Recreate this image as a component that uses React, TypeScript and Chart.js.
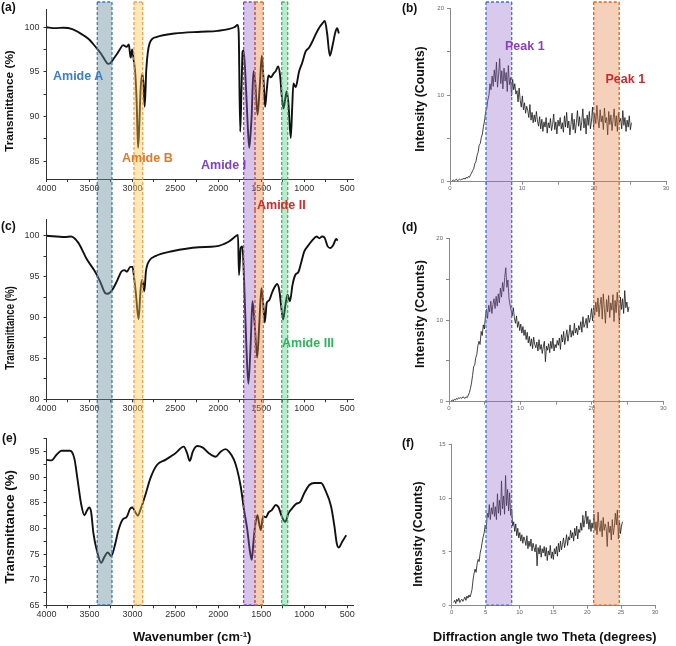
import React, { useEffect, useRef } from "react";
import { Chart, registerables } from "chart.js";

Chart.register(...registerables);

const FONT = '"Liberation Sans", Arial, Helvetica, sans-serif';

// ---------- FTIR (a) ----------
const ftirAWavenumber = [4000, 3900, 3800, 3700, 3620, 3553, 3500, 3437, 3359, 3301, 3282, 3255, 3224, 3180, 3147, 3108, 3069, 3042, 3031, 3020, 3003, 2985, 2965, 2950, 2934, 2920, 2904, 2884, 2870, 2857, 2838, 2800, 2722, 2510, 2200, 2007, 1814, 1775, 1763, 1745, 1730, 1717, 1705, 1679, 1660, 1640, 1625, 1613, 1590, 1571, 1543, 1517, 1493, 1474, 1455, 1435, 1416, 1389, 1358, 1331, 1304, 1281, 1260, 1242, 1220, 1204, 1184, 1157, 1140, 1126, 1099, 1061, 1022, 983, 944, 905, 867, 829, 790, 760, 733, 702, 667, 636, 616, 597];
const ftirATransmittance = [100.0, 99.9, 99.95, 99.8, 99.4, 99.0, 98.6, 97.9, 96.95, 96.05, 95.9, 96.0, 96.4, 97.0, 97.5, 98.0, 97.8, 98.06, 97.3, 96.6, 97.5, 96.4, 94.6, 91.5, 86.5, 89.0, 93.1, 94.8, 93.5, 91.1, 95.3, 98.2, 98.9, 99.3, 99.5, 99.6, 100.0, 100.25, 99.5, 88.3, 93.0, 97.3, 97.4, 93.5, 89.5, 86.5, 88.0, 89.8, 95.1, 93.9, 90.2, 93.5, 96.8, 94.2, 91.1, 93.1, 94.6, 94.4, 94.8, 95.1, 95.6, 94.6, 92.2, 90.9, 92.0, 92.8, 91.5, 87.6, 91.0, 93.7, 93.3, 95.0, 96.05, 97.3, 97.7, 98.4, 99.2, 99.9, 100.4, 100.7, 99.3, 96.8, 98.1, 99.5, 99.9, 99.3];

// ---------- FTIR (c) ----------
const ftirCWavenumber = [4000, 3785, 3715, 3629, 3532, 3434, 3376, 3317, 3287, 3240, 3182, 3130, 3092, 3065, 3025, 2998, 2986, 2960, 2928, 2905, 2889, 2878, 2861, 2843, 2803, 2733, 2539, 2227, 2031, 1876, 1790, 1771, 1759, 1739, 1720, 1700, 1674, 1650, 1622, 1603, 1575, 1548, 1522, 1498, 1478, 1459, 1436, 1408, 1376, 1350, 1315, 1291, 1268, 1245, 1221, 1194, 1166, 1136, 1104, 1066, 1038, 999, 960, 902, 855, 824, 792, 765, 727, 695, 660, 628, 610];
const ftirCTransmittance = [100.0, 99.85, 99.9, 99.13, 97.15, 95.6, 94.4, 93.0, 92.9, 93.3, 94.4, 95.6, 95.8, 95.6, 96.2, 96.2, 95.4, 93.0, 89.8, 93.4, 94.6, 94.3, 93.2, 95.6, 96.95, 97.5, 98.1, 98.6, 98.7, 99.3, 100.0, 100.1, 95.2, 98.5, 98.7, 94.6, 86.7, 81.9, 87.1, 92.0, 89.0, 85.1, 89.4, 93.6, 91.8, 89.4, 91.8, 92.1, 93.0, 93.6, 94.1, 93.4, 91.4, 89.75, 91.4, 92.8, 92.0, 94.0, 95.2, 95.6, 96.6, 98.1, 98.7, 99.5, 99.9, 99.7, 99.9, 99.8, 98.7, 98.5, 98.9, 99.6, 99.4];

// ---------- FTIR (e) ----------
const ftirEWavenumber = [4000, 3942, 3883, 3825, 3726, 3676, 3638, 3598, 3559, 3532, 3504, 3481, 3454, 3415, 3364, 3325, 3287, 3247, 3209, 3162, 3115, 3065, 3025, 2998, 2967, 2936, 2908, 2850, 2791, 2714, 2616, 2499, 2402, 2363, 2332, 2297, 2246, 2180, 2110, 2031, 1973, 1915, 1876, 1817, 1779, 1739, 1700, 1662, 1634, 1611, 1592, 1572, 1545, 1525, 1505, 1478, 1447, 1416, 1377, 1330, 1300, 1260, 1221, 1183, 1143, 1096, 1046, 999, 940, 882, 804, 754, 687, 648, 621, 598, 558, 511];
const ftirETransmittance = [93.4, 93.3, 94.4, 95.2, 95.2, 93.7, 89.5, 84.9, 82.6, 83.4, 84.1, 83.3, 79.1, 75.8, 73.3, 74.5, 75.3, 74.6, 76.4, 79.7, 81.7, 82.3, 83.9, 84.1, 83.2, 82.5, 83.6, 86.5, 89.8, 92.4, 93.4, 94.7, 96.0, 94.7, 93.2, 95.0, 96.1, 95.8, 94.7, 94.0, 95.0, 95.5, 95.0, 93.4, 91.4, 88.2, 83.6, 79.7, 75.8, 73.9, 77.1, 80.4, 82.6, 81.0, 79.7, 82.4, 82.2, 83.1, 83.6, 84.6, 84.2, 82.3, 81.3, 83.0, 83.9, 84.8, 85.2, 86.9, 88.5, 88.9, 88.9, 87.5, 84.3, 80.4, 77.1, 76.3, 77.4, 78.7];

// FTIR axes
const ftirXMin = 432;
const ftirXMax = 4000;
const ftirXTicks = [4000, 3750, 3500, 3250, 3000, 2750, 2500, 2250, 2000, 1750, 1500, 1250, 1000, 750, 500];
const ftirXLabelStep = 500;
const ftirYTicks = [65, 67.5, 70, 72.5, 75, 77.5, 80, 82.5, 85, 87.5, 90, 92.5, 95, 97.5, 100];
const ftirYLabelStep = 5;
const ftirAYRange = [83, 102];
const ftirCYRange = [80, 102];
const ftirEYRange = [65, 97.5];

// FTIR highlighted bands (cm-1): Amide A, Amide B, Amide I, Amide II, Amide III
const ftirBandLow = [3238, 2880, 1573, 1476, 1192];
const ftirBandHigh = [3409, 2982, 1705, 1573, 1262];

// ---------- XRD ----------
const xrdAngles = [0.3, 0.45, 0.6, 0.75, 0.9, 1.05, 1.2, 1.35, 1.5, 1.65, 1.8, 1.95, 2.1, 2.25, 2.4, 2.55, 2.7, 2.85, 3.0, 3.15, 3.3, 3.45, 3.6, 3.75, 3.9, 4.05, 4.2, 4.35, 4.5, 4.65, 4.8, 4.95, 5.1, 5.25, 5.4, 5.55, 5.7, 5.85, 6.0, 6.15, 6.3, 6.45, 6.6, 6.75, 6.9, 7.05, 7.2, 7.35, 7.5, 7.65, 7.8, 7.95, 8.1, 8.25, 8.4, 8.55, 8.7, 8.85, 9.0, 9.15, 9.3, 9.45, 9.6, 9.75, 9.9, 10.05, 10.2, 10.35, 10.5, 10.65, 10.8, 10.95, 11.1, 11.25, 11.4, 11.55, 11.7, 11.85, 12.0, 12.15, 12.3, 12.45, 12.6, 12.75, 12.9, 13.05, 13.2, 13.35, 13.5, 13.65, 13.8, 13.95, 14.1, 14.25, 14.4, 14.55, 14.7, 14.85, 15.0, 15.15, 15.3, 15.45, 15.6, 15.75, 15.9, 16.05, 16.2, 16.35, 16.5, 16.65, 16.8, 16.95, 17.1, 17.25, 17.4, 17.55, 17.7, 17.85, 18.0, 18.15, 18.3, 18.45, 18.6, 18.75, 18.9, 19.05, 19.2, 19.35, 19.5, 19.65, 19.8, 19.95, 20.1, 20.25, 20.4, 20.55, 20.7, 20.85, 21.0, 21.15, 21.3, 21.45, 21.6, 21.75, 21.9, 22.05, 22.2, 22.35, 22.5, 22.65, 22.8, 22.95, 23.1, 23.25, 23.4, 23.55, 23.7, 23.85, 24.0, 24.15, 24.3, 24.45, 24.6, 24.75, 24.9, 25.05, 25.2];

const xrdBCounts = [
  0.1, 0.2, 0.1, 0.2, 0.3, 0.1, 0.2, 0.3, 0.2, 0.3,
  0.3, 0.4, 0.3, 0.5, 0.4, 0.6, 0.5, 0.8, 1.0, 1.3,
  1.5, 2.1, 2.3, 3.0, 3.4, 4.2, 4.4, 5.1, 5.5, 6.4,
  7.0, 8.1, 8.4, 9.4, 9.9, 11.3, 10.6, 12.2, 11.0, 12.9,
  11.5, 13.8, 10.9, 12.4, 14.2, 11.3, 12.8, 10.7, 13.1, 11.6,
  12.6, 10.4, 13.4, 11.2, 12.0, 9.9, 11.8, 10.6, 11.3, 10.1,
  10.5, 9.2, 10.8, 9.4, 8.6, 9.9, 8.3, 9.1, 7.9, 8.7,
  8.2, 7.4, 8.9, 7.1, 8.0, 6.8, 7.7, 6.9, 8.1, 7.0,
  6.4, 7.5, 6.1, 7.2, 5.8, 6.9, 6.3, 7.4, 5.6, 6.8,
  6.2, 7.3, 5.9, 6.6, 7.8, 6.0, 6.9, 5.5, 7.1, 6.4,
  7.4, 6.1, 6.8, 5.7, 7.6, 6.3, 8.0, 6.2, 7.0, 5.4,
  6.6, 7.9, 6.0, 7.2, 5.6, 6.8, 8.2, 6.4, 7.5, 5.9,
  6.9, 8.4, 6.2, 7.3, 5.5, 7.7, 6.5, 8.1, 6.1, 7.0,
  8.6, 6.3, 7.9, 6.7, 8.8, 7.1, 6.2, 8.3, 6.9, 7.6,
  6.0, 8.5, 6.8, 7.4, 5.4, 8.1, 6.6, 7.7, 5.9, 7.2,
  8.4, 6.4, 7.6, 5.8, 8.0, 6.9, 7.3, 6.1, 8.2, 6.5,
  7.4, 5.8, 7.1, 6.3, 7.6, 6.0, 6.8
];

const xrdDCounts = [
  0.1, 0.2, 0.1, 0.3, 0.2, 0.4, 0.3, 0.5, 0.4, 0.5,
  0.4, 0.6, 0.5, 0.4, 0.6, 0.5, 0.8, 1.1, 1.6, 2.3,
  3.2, 4.3, 4.5, 5.4, 5.8, 6.9, 7.4, 7.0, 8.6, 8.1,
  9.4, 8.9, 10.4, 11.3, 10.2, 11.8, 11.0, 12.3, 10.8, 11.9,
  12.6, 11.4, 12.9, 11.7, 13.2, 12.1, 13.9, 12.8, 14.6, 13.5,
  15.2, 16.4, 14.0, 14.9, 12.6, 11.8, 11.2, 10.5, 11.5, 10.3,
  9.6, 10.5, 9.1, 9.8, 8.7, 9.5, 8.4, 9.2, 8.1, 8.8,
  7.6, 8.5, 7.2, 8.0, 6.8, 7.7, 6.5, 7.9, 7.0, 6.6,
  7.3, 6.2, 7.6, 6.4, 7.0, 5.9, 6.7, 7.4, 4.9, 6.8,
  6.3, 7.1, 6.0, 7.4, 6.5, 7.8, 6.2, 7.0, 6.6, 7.5,
  6.9, 7.8, 6.4, 8.2, 7.3, 8.6, 7.0, 7.9, 8.8, 7.4,
  8.3, 9.4, 7.9, 8.7, 8.1, 9.6, 8.4, 9.0, 8.2, 9.3,
  8.8, 9.8, 8.5, 10.4, 9.1, 9.5, 10.2, 9.0, 10.6, 9.7,
  10.3, 11.4, 9.9, 11.8, 10.6, 12.2, 11.0, 12.7, 10.4, 11.9,
  12.8, 10.1, 13.2, 11.4, 9.6, 12.5, 11.0, 13.0, 10.3, 12.1,
  11.2, 13.1, 9.8, 12.4, 10.9, 13.4, 11.6, 9.5, 12.8, 11.3,
  12.6, 10.8, 13.6, 11.5, 12.2, 11.0, 11.6
];

const xrdFCounts = [
  0.3, 0.5, 0.2, 0.6, 0.4, 0.7, 0.3, 0.5, 0.6, 0.4,
  0.6, 0.8, 0.5, 0.9, 0.7, 1.0, 0.8, 1.1, 1.5, 2.4,
  3.0, 3.4, 3.1, 3.9, 4.3, 4.1, 4.9, 5.3, 5.9, 6.4,
  6.8, 7.5, 7.1, 8.6, 8.2, 9.4, 8.0, 9.1, 8.5, 9.6,
  8.3, 9.2, 8.0, 10.4, 8.6, 9.8, 8.4, 11.6, 9.0, 10.2,
  8.5, 12.1, 9.3, 10.8, 8.8, 10.5, 8.4, 9.0, 7.4, 7.8,
  6.9, 7.6, 6.5, 7.2, 6.3, 6.8, 6.0, 6.6, 5.8, 6.4,
  6.1, 5.6, 6.5, 5.3, 6.0, 5.5, 6.2, 5.1, 5.8, 5.4,
  5.0, 5.7, 3.7, 5.4, 4.8, 5.6, 4.5, 5.3, 4.9, 5.5,
  4.6, 5.4, 4.2, 5.1, 4.7, 5.6, 4.4, 5.0, 4.3, 5.3,
  4.8, 5.5, 4.6, 5.8, 5.0, 6.0, 5.2, 5.7, 6.3, 5.4,
  5.9, 6.6, 5.6, 6.4, 6.1, 7.0, 6.3, 6.8, 6.0, 7.2,
  6.5, 7.4, 6.2, 7.1, 6.8, 7.7, 7.0, 8.4, 7.3, 8.0,
  8.8, 7.6, 8.3, 7.1, 8.0, 6.9, 7.7, 7.2, 8.5, 7.0,
  7.8, 6.6, 8.7, 7.3, 6.9, 7.9, 6.4, 8.2, 7.0, 7.6,
  7.2, 5.5, 7.8, 6.8, 7.4, 6.1, 8.0, 6.6, 7.3, 8.6,
  7.5, 8.9, 6.2, 7.9, 6.7, 7.4, 7.8
];

// XRD highlighted bands (degrees 2θ): Peak 1 (low angle), Peak 1 (high angle)
const xrdBBandLow = [5.0, 19.96];
const xrdBBandHigh = [8.57, 23.5];
const xrdDBandLow = [5.18, 20.26];
const xrdDBandHigh = [8.78, 23.84];
const xrdFBandLow = [5.06, 20.95];
const xrdFBandHigh = [8.85, 24.73];

// ---------- styles ----------
const ftirBandFill = [
  "rgba(105,142,158,0.44)",
  "rgba(252,200,80,0.42)",
  "rgba(150,100,200,0.38)",
  "rgba(222,128,66,0.40)",
  "rgba(70,195,110,0.36)",
];
const ftirBandStroke = ["#3b78c8", "#f2a055", "#8b45cf", "#e0701e", "#2fbf5e"];
const xrdBandFill = ["rgba(150,108,205,0.36)", "rgba(226,128,66,0.36)"];
const xrdBandStroke = ["#3b78c8", "#e0661a"];

type BandOpts = {
  low: number[];
  high: number[];
  fill: string[];
  stroke: string[];
  top: number;
  toAxis: boolean;
  topBorder: boolean;
  bottomBorder: boolean;
};

function bandPlugin(o: BandOpts) {
  return {
    id: "bands",
    afterDraw(chart: any) {
      const { ctx, chartArea } = chart;
      const xs = chart.scales.x;
      const yTop = o.top;
      const yBot = o.toAxis ? chartArea.bottom : chart.height;
      ctx.save();
      o.low.forEach((lo, i) => {
        const p1 = xs.getPixelForValue(lo);
        const p2 = xs.getPixelForValue(o.high[i]);
        const l = Math.min(p1, p2);
        const r = Math.max(p1, p2);
        ctx.fillStyle = o.fill[i];
        ctx.fillRect(l, yTop, r - l, yBot - yTop);
      });
      o.low.forEach((lo, i) => {
        const p1 = xs.getPixelForValue(lo);
        const p2 = xs.getPixelForValue(o.high[i]);
        const l = Math.min(p1, p2);
        const r = Math.max(p1, p2);
        ctx.strokeStyle = o.stroke[i];
        ctx.lineWidth = 1.3;
        ctx.setLineDash([3, 2]);
        ctx.beginPath();
        ctx.moveTo(l, yTop);
        ctx.lineTo(l, yBot);
        ctx.moveTo(r, yTop);
        ctx.lineTo(r, yBot);
        if (o.topBorder) {
          ctx.moveTo(l, yTop);
          ctx.lineTo(r, yTop);
        }
        if (o.bottomBorder) {
          ctx.moveTo(l, yBot - 0.5);
          ctx.lineTo(r, yBot - 0.5);
        }
        ctx.stroke();
      });
      ctx.restore();
    },
  };
}

function fixedTicks(values: number[]) {
  return (s: any) => {
    s.ticks = values.filter((v) => v >= s.min - 1e-9 && v <= s.max + 1e-9).map((v) => ({ value: v }));
  };
}

function ftirConfig(
  wn: number[],
  tr: number[],
  yRange: number[],
  padTop: number,
  axisH: number,
  bandTop: number,
  last: boolean
) {
  const axisColor = "#333";
  return {
    type: "line",
    data: {
      datasets: [
        {
          data: wn.map((w, i) => ({ x: w, y: tr[i] })),
          borderColor: "#111",
          borderWidth: 1.9,
          pointRadius: 0,
          cubicInterpolationMode: "monotone",
          fill: false,
        },
      ],
    },
    options: {
      animation: false,
      responsive: false,
      events: [],
      layout: { padding: { left: 0, right: 7, top: padTop, bottom: 0 } },
      plugins: { legend: { display: false }, tooltip: { enabled: false } },
      scales: {
        x: {
          type: "linear",
          reverse: true,
          min: ftirXMin,
          max: ftirXMax,
          afterFit: (s: any) => {
            s.height = axisH;
          },
          afterBuildTicks: fixedTicks(ftirXTicks),
          ticks: {
            autoSkip: false,
            maxRotation: 0,
            color: "#333",
            font: { family: FONT, size: 9 },
            padding: 1,
            callback: (v: any) => (Number(v) % ftirXLabelStep === 0 ? String(v) : ""),
          },
          grid: { drawOnChartArea: false, drawTicks: true, tickLength: 3, color: axisColor },
          border: { display: true, color: axisColor, width: 1 },
        },
        y: {
          type: "linear",
          min: yRange[0],
          max: yRange[1],
          afterFit: (s: any) => {
            s.width = 46.5;
          },
          afterBuildTicks: fixedTicks(ftirYTicks),
          ticks: {
            autoSkip: false,
            color: "#333",
            font: { family: FONT, size: 9 },
            padding: 4,
            callback: (v: any) => (Number(v) % ftirYLabelStep === 0 ? String(v) : ""),
          },
          grid: { drawOnChartArea: false, drawTicks: true, tickLength: 3, color: axisColor },
          border: { display: true, color: axisColor, width: 1 },
        },
      },
    },
    plugins: [
      bandPlugin({
        low: ftirBandLow,
        high: ftirBandHigh,
        fill: ftirBandFill,
        stroke: ftirBandStroke,
        top: bandTop,
        toAxis: last,
        topBorder: bandTop > 0,
        bottomBorder: last,
      }),
    ],
  };
}

function xrdConfig(
  counts: number[],
  yMax: number,
  yLabelEvery: number,
  xLabelEvery: number,
  yAxisW: number,
  padRight: number,
  padTop: number,
  axisH: number,
  bandLow: number[],
  bandHigh: number[],
  bandTop: number,
  last: boolean
) {
  const axisColor = "#8a8a8a";
  return {
    type: "line",
    data: {
      datasets: [
        {
          data: xrdAngles.map((a, i) => ({ x: a, y: counts[i] })),
          borderColor: "rgba(25,25,25,0.9)",
          borderWidth: 0.9,
          pointRadius: 0,
          tension: 0,
          fill: false,
        },
      ],
    },
    options: {
      animation: false,
      responsive: false,
      events: [],
      layout: { padding: { left: 0, right: padRight, top: padTop, bottom: 0 } },
      plugins: { legend: { display: false }, tooltip: { enabled: false } },
      scales: {
        x: {
          type: "linear",
          min: 0,
          max: 30,
          afterFit: (s: any) => {
            s.height = axisH;
          },
          ticks: {
            stepSize: 5,
            autoSkip: false,
            maxRotation: 0,
            color: "#666",
            font: { family: FONT, size: 6 },
            padding: 0,
            callback: (v: any) => (Number(v) % xLabelEvery === 0 ? String(v) : ""),
          },
          grid: { drawOnChartArea: false, drawTicks: true, tickLength: 3, color: axisColor },
          border: { display: true, color: axisColor, width: 1 },
        },
        y: {
          type: "linear",
          min: 0,
          max: yMax,
          afterFit: (s: any) => {
            s.width = yAxisW;
          },
          ticks: {
            stepSize: 5,
            color: "#666",
            font: { family: FONT, size: 6 },
            padding: 3,
            callback: (v: any) => (Number(v) % yLabelEvery === 0 ? String(v) : ""),
          },
          grid: { drawOnChartArea: false, drawTicks: true, tickLength: 3, color: axisColor },
          border: { display: true, color: axisColor, width: 1 },
        },
      },
    },
    plugins: [
      bandPlugin({
        low: bandLow,
        high: bandHigh,
        fill: xrdBandFill,
        stroke: xrdBandStroke,
        top: bandTop,
        toAxis: last,
        topBorder: bandTop > 0,
        bottomBorder: last,
      }),
    ],
  };
}

function ChartCanvas(props: { left: number; top: number; width: number; height: number; build: () => any }) {
  const ref = useRef<HTMLCanvasElement>(null);
  useEffect(() => {
    const chart = new Chart(ref.current as HTMLCanvasElement, props.build());
    return () => chart.destroy();
  }, []);
  return (
    <canvas
      ref={ref}
      width={props.width}
      height={props.height}
      style={{ position: "absolute", left: props.left, top: props.top, width: props.width, height: props.height }}
    />
  );
}

function Label(props: { x: number; y: number; text: React.ReactNode; color?: string; size?: number }) {
  return (
    <div
      style={{
        position: "absolute",
        left: props.x,
        top: props.y,
        transform: "translateY(-50%)",
        whiteSpace: "nowrap",
        fontFamily: FONT,
        fontWeight: "bold",
        fontSize: props.size ?? 12.5,
        lineHeight: 1,
        color: props.color ?? "#111",
      }}
    >
      {props.text}
    </div>
  );
}

function VLabel(props: { cx: number; cy: number; text: string; size: number; stretch?: number }) {
  return (
    <div
      style={{
        position: "absolute",
        left: props.cx,
        top: props.cy,
        transform: `translate(-50%,-50%) rotate(-90deg) scaleX(${props.stretch ?? 1})`,
        whiteSpace: "nowrap",
        fontFamily: FONT,
        fontWeight: "bold",
        fontSize: props.size,
        lineHeight: 1,
        color: "#111",
      }}
    >
      {props.text}
    </div>
  );
}

export default function App() {
  return (
    <div style={{ position: "absolute", left: 0, top: 0, width: 676, height: 646, background: "#fff", overflow: "hidden" }}>
      <ChartCanvas left={0} top={0} width={360} height={210}
        build={() => ftirConfig(ftirAWavenumber, ftirATransmittance, ftirAYRange, 6, 31, 2, false)} />
      <ChartCanvas left={0} top={210} width={360} height={210}
        build={() => ftirConfig(ftirCWavenumber, ftirCTransmittance, ftirCYRange, 4.2, 20.7, 0, false)} />
      <ChartCanvas left={0} top={420} width={360} height={226}
        build={() => ftirConfig(ftirEWavenumber, ftirETransmittance, ftirEYRange, 18.9, 40.7, 0, true)} />

      <ChartCanvas left={400} top={0} width={276} height={210}
        build={() => xrdConfig(xrdBCounts, 20, 10, 10, 50, 10, 8.3, 28.3, xrdBBandLow, xrdBBandHigh, 2, false)} />
      <ChartCanvas left={400} top={210} width={276} height={210}
        build={() => xrdConfig(xrdDCounts, 20, 10, 10, 49, 12.7, 28.3, 18.3, xrdDBandLow, xrdDBandHigh, 0, false)} />
      <ChartCanvas left={400} top={420} width={276} height={226}
        build={() => xrdConfig(xrdFCounts, 15, 5, 5, 51.7, 21, 24.3, 40.3, xrdFBandLow, xrdFBandHigh, 0, true)} />

      {/* panel letters */}
      <Label x={1} y={7} text="(a)" size={12} />
      <Label x={402} y={8} text="(b)" size={12} />
      <Label x={1} y={226} text="(c)" size={12} />
      <Label x={402} y={227} text="(d)" size={12} />
      <Label x={2} y={438} text="(e)" size={12} />
      <Label x={402} y={443} text="(f)" size={12} />

      {/* axis titles */}
      <VLabel cx={10} cy={101} text="Transmittance (%)" size={11.8} />
      <VLabel cx={10} cy={328} text="Transmittance (%)" size={12} stretch={0.81} />
      <VLabel cx={10} cy={527} text="Transmittance (%)" size={12} stretch={1.1} />
      <VLabel cx={420} cy={99} text="Intensity (Counts)" size={12.4} />
      <VLabel cx={420} cy={314} text="Intensity (Counts)" size={12.7} />
      <VLabel cx={418} cy={534} text="Intensity (Counts)" size={12.4} />
      <Label x={133} y={637} size={12.9} text={<span>Wavenumber (cm<sup style={{ fontSize: 8, verticalAlign: "4px" }}>-1</sup>)</span>} />
      <Label x={433} y={637} size={12.7} text="Diffraction angle two Theta (degrees)" />

      {/* annotations */}
      <Label x={53} y={76} text="Amide A" color="#3b7fc4" />
      <Label x={122} y={157.5} text="Amide B" color="#e07a2a" />
      <Label x={201} y={164.7} text="Amide I" color="#7f3fc0" />
      <Label x={257} y={204.7} text="Amide II" color="#d42a2a" />
      <Label x={282} y={342.5} text="Amide III" color="#2db55d" />
      <Label x={505} y={45.8} text="Peak 1" color="#8a3fc4" />
      <Label x={605.5} y={79.2} text="Peak 1" color="#d0282a" />
    </div>
  );
}
